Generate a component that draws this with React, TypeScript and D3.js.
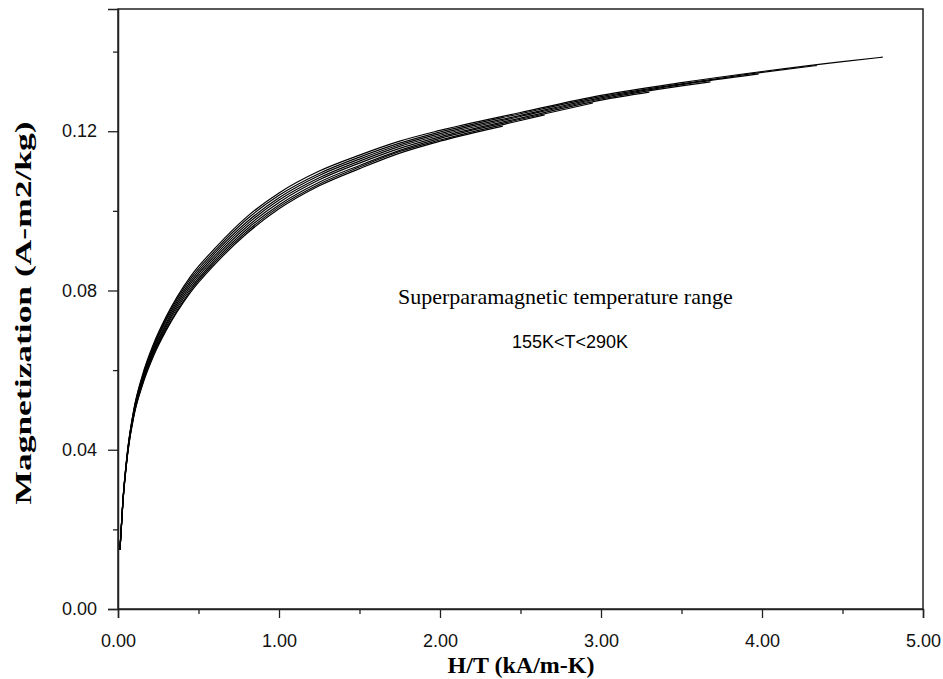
import React, { useEffect, useRef } from "react";
import * as d3 from "d3";

// H/T grid (kA/m-K) shared by all curves
const hGrid = [0.012, 0.03, 0.06, 0.1, 0.15, 0.22, 0.3, 0.45, 0.6, 0.8, 1.0, 1.25, 1.5, 1.75, 2.0, 2.5, 3.0, 3.5, 4.0, 4.5];

// Magnetization (A-m2/kg) of each isotherm, last value sits at the curve end
const mT155 = [0.0148, 0.027, 0.04, 0.0505, 0.0585, 0.0665, 0.0735, 0.0835, 0.0905, 0.0985, 0.1045, 0.11, 0.114, 0.1175, 0.1202, 0.1247, 0.129, 0.1322, 0.135, 0.1375, 0.1386];
const mT170 = [0.0148, 0.0269, 0.0398, 0.0502, 0.0581, 0.066, 0.073, 0.0829, 0.0899, 0.0979, 0.1039, 0.1094, 0.1135, 0.117, 0.1198, 0.1244, 0.1287, 0.1319, 0.1348, 0.1365];
const mT185 = [0.0148, 0.0268, 0.0397, 0.05, 0.0578, 0.0656, 0.0725, 0.0823, 0.0893, 0.0972, 0.1033, 0.1089, 0.113, 0.1166, 0.1194, 0.124, 0.1284, 0.1317, 0.1344];
const mT200 = [0.0148, 0.0268, 0.0396, 0.0497, 0.0574, 0.0651, 0.0719, 0.0817, 0.0887, 0.0966, 0.1027, 0.1083, 0.1125, 0.1162, 0.119, 0.1237, 0.1281, 0.1314, 0.1324];
const mT220 = [0.0148, 0.0267, 0.0394, 0.0494, 0.057, 0.0647, 0.0714, 0.0811, 0.0881, 0.096, 0.1021, 0.1078, 0.112, 0.1157, 0.1186, 0.1233, 0.1278, 0.1298];
const mT245 = [0.0148, 0.0266, 0.0392, 0.0491, 0.0566, 0.0643, 0.0709, 0.0805, 0.0875, 0.0954, 0.1015, 0.1072, 0.1114, 0.1152, 0.1182, 0.123, 0.1271];
const mT270 = [0.0148, 0.0266, 0.0391, 0.0489, 0.0563, 0.0639, 0.0704, 0.08, 0.087, 0.0948, 0.101, 0.1067, 0.111, 0.1149, 0.1178, 0.1227, 0.1241];
const mT290 = [0.0148, 0.0265, 0.039, 0.0487, 0.056, 0.0635, 0.07, 0.0795, 0.0865, 0.0943, 0.1005, 0.1063, 0.1106, 0.1145, 0.1175, 0.1213];

// H/T where each isotherm stops (fixed max field / T)
const curveEnds = [4.75, 4.34, 3.98, 3.68, 3.3, 2.95, 2.65, 2.39];
const curveValues = [mT155, mT170, mT185, mT200, mT220, mT245, mT270, mT290];

const xTicks = [0, 1, 2, 3, 4, 5];
const yTicks = [0, 0.04, 0.08, 0.12];

export default function App() {
  const ref = useRef<SVGSVGElement>(null);

  useEffect(() => {
    const margin = { top: 9, left: 118 };
    const svg = d3.select(ref.current);
    svg.selectAll("*").remove();

    const x = d3.scaleLinear().domain([0, 5]).range([margin.left, 923]);
    const y = d3.scaleLinear().domain([0, 0.1507]).range([609, margin.top]);

    const g = svg.append("g");

    // frame
    g.append("rect")
      .attr("x", x(0)).attr("y", y(0.1507))
      .attr("width", x(5) - x(0)).attr("height", y(0) - y(0.1507))
      .attr("fill", "none").attr("stroke", "#222").attr("stroke-width", 1.5);

    // x axis: majors every 1, minors every 0.5, outward
    const xAxis = g.append("g").attr("transform", `translate(0,${y(0)})`)
      .call(d3.axisBottom(x).tickValues(xTicks).tickSize(9).tickPadding(16).tickFormat(d3.format(".2f")));
    g.append("g").attr("transform", `translate(0,${y(0)})`)
      .call(d3.axisBottom(x).tickValues([0.5, 1.5, 2.5, 3.5, 4.5]).tickSize(5).tickFormat(() => ""))
      .select(".domain").remove();

    const yAxis = g.append("g").attr("transform", `translate(${x(0)},0)`)
      .call(d3.axisLeft(y).tickValues(yTicks).tickSize(10).tickPadding(11).tickFormat(d3.format(".2f")));
    g.append("g").attr("transform", `translate(${x(0)},0)`)
      .call(d3.axisLeft(y).tickValues([0.02, 0.06, 0.1, 0.14]).tickSize(5).tickFormat(() => ""))
      .select(".domain").remove();

    [xAxis, yAxis].forEach((a) => {
      a.select(".domain").attr("stroke", "#222").attr("stroke-width", 1.5);
      a.selectAll("text").attr("font-family", "Liberation Sans, Arial, sans-serif").attr("font-size", 18).attr("fill", "#111");
    });
    g.selectAll(".tick line").attr("stroke", "#222").attr("stroke-width", 1.3);

    // isotherm curves
    const line = d3.line<[number, number]>()
      .x((d) => x(d[0])).y((d) => y(d[1]))
      .curve(d3.curveMonotoneX);

    curveValues.forEach((vals, i) => {
      const pts: [number, number][] = vals.map((m, j) => [j < vals.length - 1 ? hGrid[j] : curveEnds[i], m]);
      g.append("path")
        .attr("d", line(pts))
        .attr("fill", "none")
        .attr("stroke", "#000")
        .attr("stroke-width", 1.2);
    });

    // axis titles
    g.append("text")
      .attr("x", 521).attr("y", 673)
      .attr("text-anchor", "middle")
      .attr("font-family", "Liberation Serif, Times New Roman, serif")
      .attr("font-weight", "bold").attr("font-size", 24)
      .text("H/T (kA/m-K)");

    g.append("text")
      .attr("transform", `translate(31,313) rotate(-90)`)
      .attr("text-anchor", "middle")
      .attr("font-family", "Liberation Serif, Times New Roman, serif")
      .attr("font-weight", "bold").attr("font-size", 24)
      .attr("textLength", 383).attr("lengthAdjust", "spacingAndGlyphs")
      .text("Magnetization (A-m2/kg)");

    // annotation
    g.append("text")
      .attr("x", 398).attr("y", 304)
      .attr("font-family", "Liberation Serif, Times New Roman, serif")
      .attr("font-size", 22)
      .text("Superparamagnetic temperature range");
    g.append("text")
      .attr("x", 512).attr("y", 348)
      .attr("font-family", "Liberation Sans, Arial, sans-serif")
      .attr("font-size", 18)
      .text("155K<T<290K");
  }, []);

  return (
    <svg ref={ref} width={943} height={679} style={{ position: "absolute", left: 0, top: 0, background: "#fff" }} />
  );
}
